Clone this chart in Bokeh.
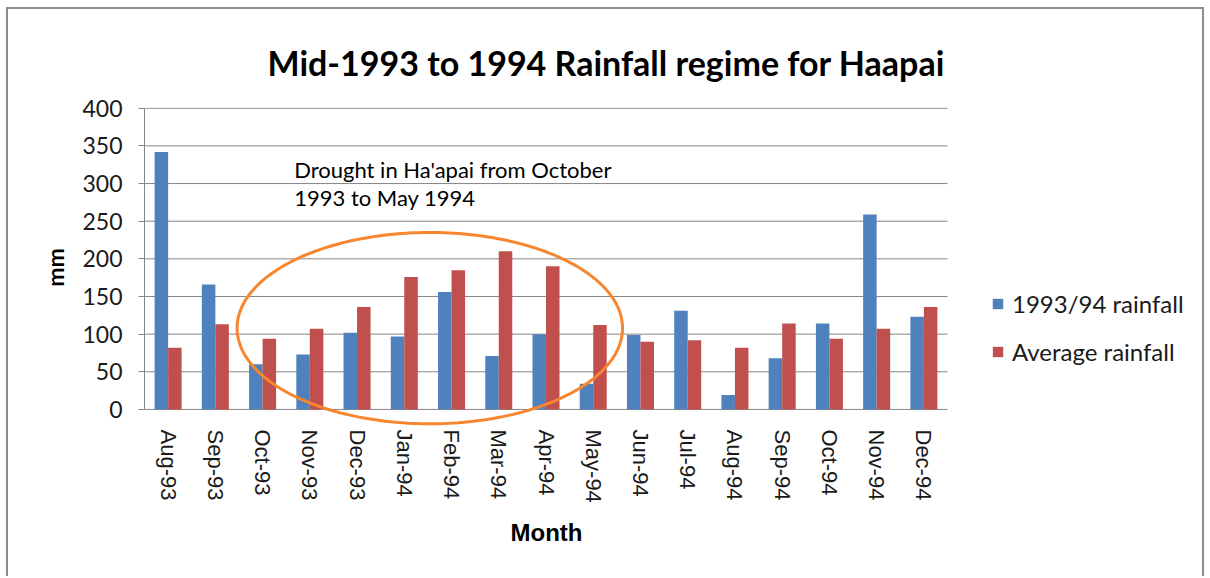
import numpy as np
from bokeh.plotting import figure
from bokeh.models import (Range1d, FixedTicker, Legend, LegendItem, Title,
                          Label, PolyAnnotation, ColumnDataSource)
from bokeh.embed import file_html
from bokeh.resources import INLINE

months = ["Aug-93", "Sep-93", "Oct-93", "Nov-93", "Dec-93", "Jan-94", "Feb-94", "Mar-94",
          "Apr-94", "May-94", "Jun-94", "Jul-94", "Aug-94", "Sep-94", "Oct-94", "Nov-94", "Dec-94"]
rain_9394 = [342, 166, 60, 73, 102, 97, 156, 71, 100, 34, 99, 131, 19, 68, 114, 259, 123]
rain_avg = [82, 113, 94, 107, 136, 176, 185, 210, 190, 112, 90, 92, 82, 114, 94, 107, 136]
series_names = ["1993/94 rainfall", "Average rainfall"]
colors = ["#4F81BD", "#C0504D"]
y_ticks = [0, 50, 100, 150, 200, 250, 300, 350, 400]

title_text = "Mid-1993 to 1994 Rainfall regime for Haapai"
x_title = "Month"
y_title = "mm"
note_lines = ["Drought in Ha'apai from October", "1993 to May 1994"]

n = len(months)
centers = [i + 0.5 for i in range(n)]
bw = 0.286

# layout: category area 803 px wide, frame extended to the right to hold the legend
cat_px, frame_px = 803, 1056
x_end = n * frame_px / cat_px

src = ColumnDataSource(dict(
    x1=[c - bw / 2 for c in centers],
    x2=[c + bw / 2 for c in centers],
    a=rain_9394, b=rain_avg))

p = figure(width=1198, height=569, x_range=Range1d(0, x_end), y_range=Range1d(-24, 401),
           output_backend="svg", toolbar_location=None,
           min_border_left=136, min_border_right=1198 - 136 - frame_px,
           min_border_top=98, min_border_bottom=151,
           styles={"margin-left": "6px", "margin-top": "7px",
                   "border-top": "2px solid #8c8c8c", "border-left": "2px solid #8c8c8c",
                   "border-right": "2px solid #8c8c8c"})
p.outline_line_color = None
p.background_fill_color = "white"
p.xgrid.visible = False
p.ygrid.visible = False

grid_col = "#868686"
# horizontal gridlines over the category area only
p.segment(x0=[0] * len(y_ticks), x1=[n] * len(y_ticks), y0=y_ticks, y1=y_ticks,
          line_color=grid_col, line_width=1)

r1 = p.vbar(x="x1", top="a", width=bw, source=src, fill_color=colors[0], line_color=None)
r2 = p.vbar(x="x2", top="b", width=bw, source=src, fill_color=colors[1], line_color=None)

# y axis
ya = p.yaxis[0]
ya.ticker = FixedTicker(ticks=y_ticks)
ya.bounds = (0, 400)
ya.axis_line_color = grid_col
ya.major_tick_line_color = grid_col
ya.major_tick_out = 6
ya.major_tick_in = 0
ya.minor_tick_line_color = None
ya.major_label_standoff = 16
ya.major_label_text_font = "Lato"
ya.major_label_text_font_size = "23px"
ya.major_label_text_color = "#1a1a1a"
ya.axis_label = y_title
ya.axis_label_text_font = "Lato"
ya.axis_label_text_font_style = "bold"
ya.axis_label_text_font_size = "23px"
ya.axis_label_text_color = "black"
ya.axis_label_standoff = 10

# x axis (line drawn by the 0 gridline)
xa = p.xaxis[0]
xa.ticker = FixedTicker(ticks=centers)
xa.major_label_overrides = {c: m for c, m in zip(centers, months)}
xa.major_label_orientation = "vertical"
xa.axis_line_color = None
xa.major_tick_line_color = None
xa.minor_tick_line_color = None
xa.major_tick_out = 0
xa.major_tick_in = 0
xa.major_label_standoff = 2
xa.major_label_text_font = "Liberation Sans"
xa.major_label_text_font_size = "22px"
xa.major_label_text_color = "#1a1a1a"

# x axis title, centred under the category area
p.add_layout(Title(text=x_title, align="left", offset=366, standoff=22,
                   text_font="Liberation Sans", text_font_style="bold",
                   text_font_size="24px", text_color="black"), "below")

# Title
p.title.text = title_text
p.title.align = "left"
p.title.offset = 123
p.title.text_font = "Lato"
p.title.text_font_style = "bold"
p.title.text_font_size = "34px"
p.title.text_color = "black"
p.title.standoff = 50

# Annotation text
for txt, yv in zip(note_lines, [319, 281]):
    p.add_layout(Label(x=3.17, y=yv, text=txt, text_align="left", text_baseline="middle",
                       text_font="Lato", text_font_size="22px", text_color="black"))

# Ellipse highlighting the drought
cx, cy, ax_, ay_ = 6.04, 108, 4.08, 127
t = np.linspace(0, 2 * np.pi, 240)
p.add_layout(PolyAnnotation(xs=list(cx + ax_ * np.cos(t)), ys=list(cy + ay_ * np.sin(t)),
                            fill_alpha=0, line_color="#F7862F", line_alpha=1.0, line_width=3))

legend = Legend(items=[LegendItem(label=series_names[0], renderers=[r1]),
                       LegendItem(label=series_names[1], renderers=[r2])],
                location=(847, 61), orientation="vertical",
                glyph_width=13, glyph_height=13, label_height=22, spacing=19,
                label_standoff=8, padding=0, margin=0,
                border_line_color=None, background_fill_alpha=0,
                label_text_font="Lato", label_text_font_size="24px", label_text_color="#1a1a1a")
p.add_layout(legend, "center")

open("out.html", "w").write(file_html(p, INLINE))
